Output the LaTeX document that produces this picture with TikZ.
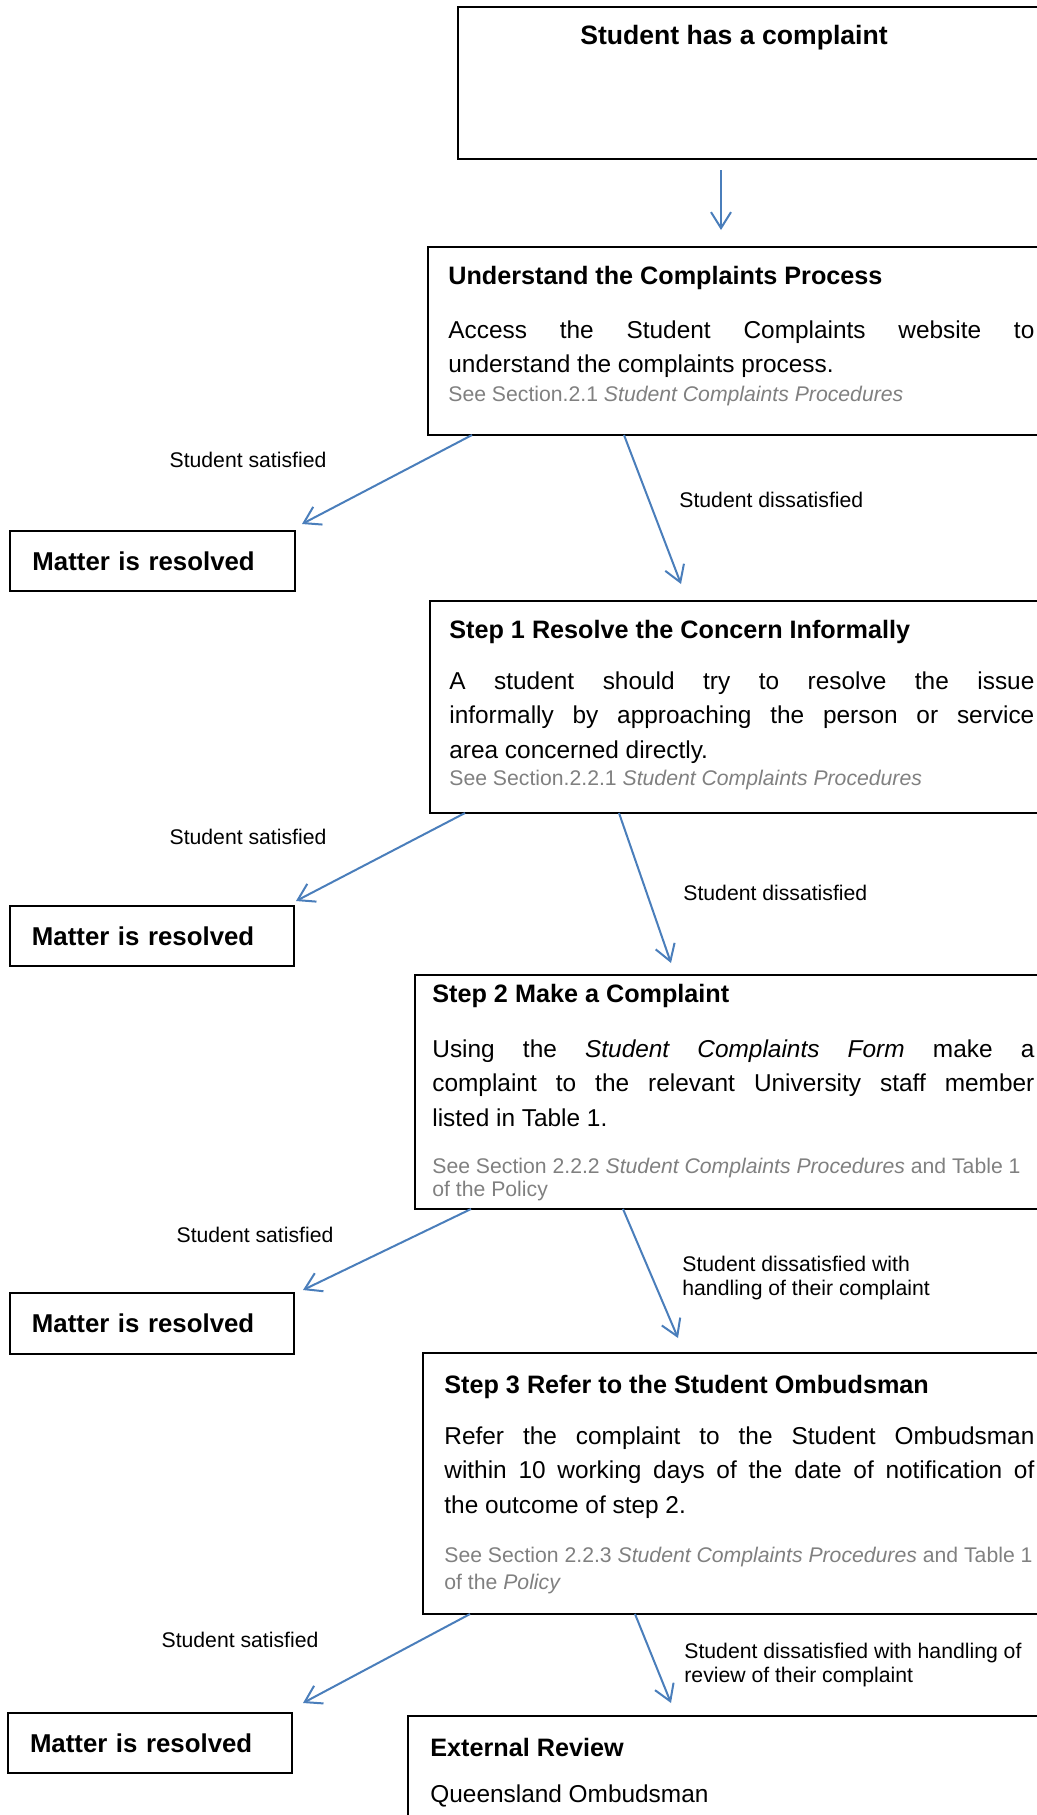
\documentclass[tikz,border=0pt]{standalone}
\usepackage{fontspec}
\setmainfont{Liberation Sans}
\usetikzlibrary{arrows.meta}

\definecolor{flowblue}{HTML}{4A7EBB}
\definecolor{refgray}{HTML}{808080}
\newcommand\toptitle{\fontsize{13.3}{14.5}\selectfont\bfseries}
\newcommand\boxtitle{\fontsize{12.6}{14}\selectfont\bfseries}
\newcommand\boxbody{\fontsize{12.2}{17.4}\selectfont}
\newcommand\boxref{\fontsize{10.6}{11.5}\selectfont\color{refgray}}
\newcommand\resfont{\fontsize{12.9}{14}\selectfont\bfseries}
\newcommand\lblfont{\fontsize{10.6}{12}\selectfont}
\hyphenpenalty=10000
\tolerance=10000

\begin{document}
\begin{tikzpicture}[x=0.5pt,y=-0.5pt,
  box/.style={draw, line width=1pt, anchor=north west, inner sep=0pt, outer sep=0pt},
  resbox/.style={box, minimum height=30pt, inner xsep=11pt, text width=120pt,
    align=left, font=\resfont},
  flow/.style={draw=flowblue, line width=1pt, -{Straight Barb[length=8pt,width=10pt]}},
  txt/.style={anchor=base west, inner sep=0pt},
  body/.style={txt, align=justify, font=\boxbody},
  lbl/.style={inner sep=0pt, font=\lblfont, align=left}]

\useasboundingbox (0,0) rectangle (1037,1815);
\clip (0,0) rectangle (1037,1815);

% caixas principais
\node[box, minimum width=293.5pt, minimum height=76pt] (start) at (458,7) {};
\node[box, minimum width=308.5pt, minimum height=94pt] (understand) at (428,247) {};
\node[box, minimum width=307.5pt, minimum height=106pt] (step1) at (430,601) {};
\node[box, minimum width=315pt, minimum height=117pt] (step2) at (415,975) {};
\node[box, minimum width=311pt, minimum height=130.5pt] (step3) at (423,1353) {};
\node[box, minimum width=318.5pt, minimum height=60pt] (external) at (408,1716) {};

% caixas resolvidas
\node[resbox, minimum width=142.5pt] (res1) at (10,531) {Matter is resolved};
\node[resbox, minimum width=142pt] (res2) at (10,906) {Matter is resolved};
\node[resbox, minimum width=142pt, minimum height=30.5pt] (res3) at (10,1293) {Matter is resolved};
\node[resbox, minimum width=142pt] (res4) at (8,1713) {Matter is resolved};

% textos
\node[anchor=base, inner sep=0pt, font=\toptitle] (starttitle) at (734,44) {Student has a complaint};

\node[txt, font=\boxtitle] (undtitle) at (448,284) {Understand the Complaints Process};
\node[body, text width=293pt] (undbody) at (448,338)
  {Access the Student Complaints website to\linebreak understand the complaints process.};
\node[txt, font=\boxref] (undref) at (448,401)
  {See Section.2.1 \textit{Student Complaints Procedures}};

\node[txt, font=\boxtitle] (s1title) at (449,638) {Step 1 Resolve the Concern Informally};
\node[body, text width=292.5pt] (s1body) at (449,689)
  {A student should try to resolve the issue\linebreak informally by approaching the person or service\linebreak area concerned directly.};
\node[txt, font=\boxref] (s1ref) at (449,785)
  {See Section.2.2.1 \textit{Student Complaints Procedures}};

\node[txt, font=\boxtitle] (s2title) at (432,1002) {Step 2 Make a Complaint};
\node[body, text width=301pt] (s2body) at (432,1057)
  {Using the \textit{Student Complaints Form} make a\linebreak complaint to the relevant University staff member\linebreak listed in Table 1.};
\node[txt, align=left, font=\boxref] (s2ref) at (432,1196)
  {See Section 2.2.2 \textit{Student Complaints Procedures} and Table 1\\of the Policy};

\node[txt, font=\boxtitle] (s3title) at (444,1393) {Step 3 Refer to the Student Ombudsman};
\node[body, text width=295pt] (s3body) at (444,1444)
  {Refer the complaint to the Student Ombudsman\linebreak within 10 working days of the date of notification of\linebreak the outcome of step 2.};
\node[txt, align=left, font=\boxref] (s3ref) at (444,1589)
  {See Section 2.2.3 \textit{Student Complaints Procedures} and Table 1\\[2pt]of the \textit{Policy}};

\node[txt, font=\boxtitle] (exttitle) at (430,1756) {External Review};
\node[txt, font=\boxbody] (extbody) at (430,1802) {Queensland Ombudsman};

% rótulos das setas
\node[lbl] (sat1) at (248,460) {Student satisfied};
\node[lbl, anchor=west] (dis1) at (679,500) {Student dissatisfied};
\node[lbl] (sat2) at (248,837) {Student satisfied};
\node[lbl, anchor=west] (dis2) at (683,893) {Student dissatisfied};
\node[lbl] (sat3) at (255,1235) {Student satisfied};
\node[lbl, anchor=west] (dis3) at (682,1278) {Student dissatisfied with\\handling of their complaint};
\node[lbl] (sat4) at (240,1640) {Student satisfied};
\node[lbl, anchor=west] (dis4) at (684,1665) {Student dissatisfied with handling of\\review of their complaint};

% setas
\draw[flow] ([xshift=131.5pt,yshift=-5.5pt]start.south west) -- ([xshift=146.5pt,yshift=8.5pt]understand.north west);
\draw[flow] ([xshift=22pt]understand.south west) -- ([xshift=3.5pt,yshift=3.5pt]res1.north east);
\draw[flow] ([xshift=98pt]understand.south west) -- ([xshift=125.5pt,yshift=8.5pt]step1.north west);
\draw[flow] ([xshift=17.5pt]step1.south west) -- ([xshift=1pt,yshift=2.5pt]res2.north east);
\draw[flow] ([xshift=94.5pt]step1.south west) -- ([xshift=128pt,yshift=6pt]step2.north west);
\draw[flow] ([xshift=28pt]step2.south west) -- ([xshift=4.5pt,yshift=1.5pt]res3.north east);
\draw[flow] ([xshift=104pt]step2.south west) -- ([xshift=127.5pt,yshift=7.5pt]step3.north west);
\draw[flow] ([xshift=23.5pt]step3.south west) -- ([xshift=5.5pt,yshift=5pt]res4.north east);
\draw[flow] ([xshift=106pt]step3.south west) -- ([xshift=131.5pt,yshift=6.5pt]external.north west);

\end{tikzpicture}
\end{document}
